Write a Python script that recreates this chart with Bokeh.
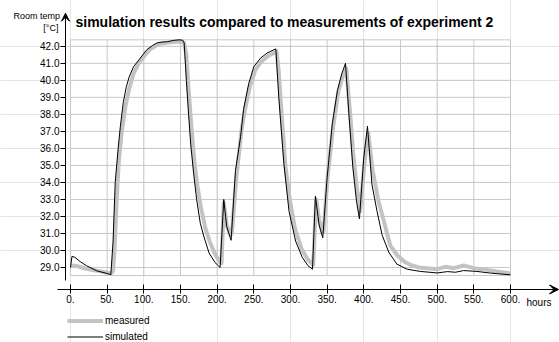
from bokeh.plotting import figure
from bokeh.models import (LinearAxis, FixedTicker, PrintfTickFormatter, Range1d,
                          Label, Arrow, VeeHead, Legend, LegendItem)
from bokeh.embed import file_html
from bokeh.resources import INLINE

# ---------------- data ----------------
hours_sim = [0, 2, 6, 13, 22, 36, 50, 55, 58, 61, 65, 68, 72, 76, 80, 86, 95, 104,
             112, 118, 125, 132, 141, 148, 153, 155, 158, 161, 164, 168, 172, 177,
             182, 189, 197, 204, 209, 213, 219, 225, 232, 236, 243, 250, 259, 268,
             280, 284, 291, 298, 307, 316, 324, 330, 334, 339, 344, 350, 357, 364,
             370, 375, 380, 385, 390, 394, 400, 405, 411, 418, 425, 434, 445, 459,
             477, 500, 514, 525, 536, 554, 573, 600]
temp_sim = [29.0, 29.65, 29.6, 29.35, 29.1, 28.8, 28.65, 28.58, 30.5, 34.0, 36.0,
            37.3, 38.7, 39.6, 40.2, 40.8, 41.3, 41.8, 42.05, 42.2, 42.25, 42.27,
            42.35, 42.38, 42.36, 42.2, 40.0, 38.0, 36.2, 34.5, 33.0, 31.6, 30.8,
            29.85, 29.3, 29.0, 33.0, 31.4, 30.6, 34.7, 36.7, 38.3, 39.8, 40.8, 41.3,
            41.6, 41.85, 39.0, 35.1, 32.3, 30.55, 29.6, 29.1, 28.9, 33.2, 31.5,
            30.75, 34.3, 37.45, 39.4, 40.4, 41.0, 37.8, 34.9, 32.9, 31.85, 35.5,
            37.3, 33.9, 32.3, 30.9, 29.9, 29.2, 28.9, 28.77, 28.68, 28.76, 28.72,
            28.82, 28.77, 28.67, 28.57]

hours_meas = [0, 8, 15, 25, 40, 55, 58, 60, 63, 66, 70, 75, 80, 86, 93, 100, 108,
              115, 122, 130, 140, 150, 155, 158, 161, 165, 169, 173, 178, 184, 190,
              197, 204, 206, 209, 213, 218, 220, 226, 233, 238, 245, 252, 260, 270,
              281, 284, 288, 293, 299, 306, 315, 323, 331, 335, 339, 343, 345, 351,
              358, 365, 371, 376, 381, 386, 391, 395, 401, 406, 412, 420, 428, 436,
              445, 455, 464, 475, 486, 500, 511, 523, 536, 550, 568, 586, 600]
temp_meas = [29.1, 29.1, 29.0, 28.9, 28.78, 28.65, 28.8, 30.0, 33.0, 35.3, 37.0,
             38.5, 39.5, 40.4, 41.0, 41.4, 41.8, 42.0, 42.15, 42.2, 42.25, 42.28,
             42.2, 41.5, 39.5, 37.2, 35.2, 33.8, 32.5, 31.3, 30.5, 29.8, 29.3,
             29.25, 32.8, 31.5, 30.9, 31.0, 34.2, 37.0, 38.3, 39.7, 40.6, 41.1,
             41.45, 41.7, 40.5, 38.0, 35.0, 33.0, 31.3, 30.1, 29.5, 29.15, 33.0,
             31.8, 31.1, 31.1, 34.5, 37.2, 39.3, 40.2, 40.7, 38.2, 35.5, 33.5,
             32.3, 35.2, 36.9, 34.7, 32.9, 31.6, 30.3, 29.75, 29.35, 29.15, 29.0,
             28.96, 28.9, 29.04, 28.96, 29.12, 28.96, 28.86, 28.73, 28.65]

x_ticks = [0, 50, 100, 150, 200, 250, 300, 350, 400, 450, 500, 550, 600]
y_ticks = [29, 30, 31, 32, 33, 34, 35, 36, 37, 38, 39, 40, 41, 42]

title_text = "simulation results compared to measurements of experiment 2"
y_title_1 = "Room temp"
y_title_2 = "[°C]"
x_title = "hours"

# ---------------- layout ----------------
FONT = "Liberation Sans"
W, H = 559, 342
GRID_Y0, GRID_Y1 = 28.53, 42.38
X_AXIS_Y = 27.707
Y_AXIS_X = -6.82

p = figure(width=W, height=H, output_backend="svg", toolbar_location=None, tools="",
           x_range=Range1d(-95.455, 666.82), y_range=Range1d(24.592, 44.692),
           x_axis_location=None, y_axis_location=None,
           min_border_left=0, min_border_right=0, min_border_top=0, min_border_bottom=0)
p.outline_line_color = None
p.background_fill_color = "white"
p.border_fill_color = "white"

GRID_COLOR = "#c8c8c8"
# vertical grid lines
p.segment(x0=x_ticks, y0=[GRID_Y0] * len(x_ticks), x1=x_ticks, y1=[GRID_Y1] * len(x_ticks),
          line_color=GRID_COLOR, line_width=1)
# horizontal grid lines (plus box borders)
hy = y_ticks + [GRID_Y0, GRID_Y1]
p.segment(x0=[x_ticks[0]] * len(hy), y0=hy, x1=[x_ticks[-1]] * len(hy), y1=hy,
          line_color=GRID_COLOR, line_width=1)

r_meas = p.line(hours_meas, temp_meas, line_color="#c3c3c3", line_width=4, line_join="round")
r_sim = p.line(hours_sim, temp_sim, line_color="black", line_width=1, line_join="round")

# axes
yaxis = LinearAxis(ticker=FixedTicker(ticks=y_ticks),
                   formatter=PrintfTickFormatter(format="%.1f"),
                   fixed_location=Y_AXIS_X, bounds=(28.236, 43.6))
yaxis.major_tick_out = 5
yaxis.major_tick_in = 0
yaxis.minor_tick_line_color = None
yaxis.major_label_standoff = 1
yaxis.major_label_text_font = FONT
yaxis.major_label_text_font_size = "10px"
yaxis.major_label_text_color = "black"
yaxis.axis_line_color = "black"
p.add_layout(yaxis, "left")

xaxis = LinearAxis(ticker=FixedTicker(ticks=x_ticks),
                   formatter=PrintfTickFormatter(format="%d."),
                   fixed_location=X_AXIS_Y, bounds=(-18.1, 655))
xaxis.major_tick_out = 4
xaxis.major_tick_in = 5
xaxis.minor_tick_line_color = None
xaxis.major_label_standoff = 2
xaxis.major_label_text_font = FONT
xaxis.major_label_text_font_size = "10px"
xaxis.major_label_text_color = "black"
xaxis.axis_line_color = "black"
p.add_layout(xaxis, "below")

# arrow heads
p.add_layout(Arrow(end=VeeHead(size=8, line_color="black", fill_color="black", line_width=1),
                   x_start=Y_AXIS_X, y_start=43.3, x_end=Y_AXIS_X, y_end=43.945,
                   line_color="black", line_width=1))
p.add_layout(Arrow(end=VeeHead(size=9, line_color="black", fill_color="black", line_width=1),
                   x_start=650, y_start=X_AXIS_Y, x_end=665.5, y_end=X_AXIS_Y,
                   line_color="black", line_width=1))

# texts
p.add_layout(Label(x=6.8, y=43.40, text=title_text, text_font=FONT, text_font_size="14px",
                   text_font_style="bold", text_baseline="middle", text_align="left",
                   text_color="black"))
p.add_layout(Label(x=-14.3, y=43.81, text=y_title_1, text_font=FONT, text_font_size="9px",
                   text_baseline="middle", text_align="right", text_color="black"))
p.add_layout(Label(x=-16.4, y=43.105, text=y_title_2, text_font=FONT, text_font_size="9px",
                   text_baseline="middle", text_align="right", text_color="black"))
p.add_layout(Label(x=621.8, y=26.94, text=x_title, text_font=FONT, text_font_size="10px",
                   text_baseline="middle", text_align="left", text_color="black"))

legend = Legend(items=[LegendItem(label="measured", renderers=[r_meas]),
                       LegendItem(label="simulated", renderers=[r_sim])],
                location=(67, 0), orientation="vertical", glyph_width=36, glyph_height=11,
                label_height=11, label_width=10, label_standoff=2, spacing=5, padding=0,
                margin=0, border_line_color=None, background_fill_alpha=0,
                label_text_font=FONT, label_text_font_size="10px", label_text_color="black")
p.add_layout(legend)

open("out.html", "w").write(file_html(p, INLINE))
